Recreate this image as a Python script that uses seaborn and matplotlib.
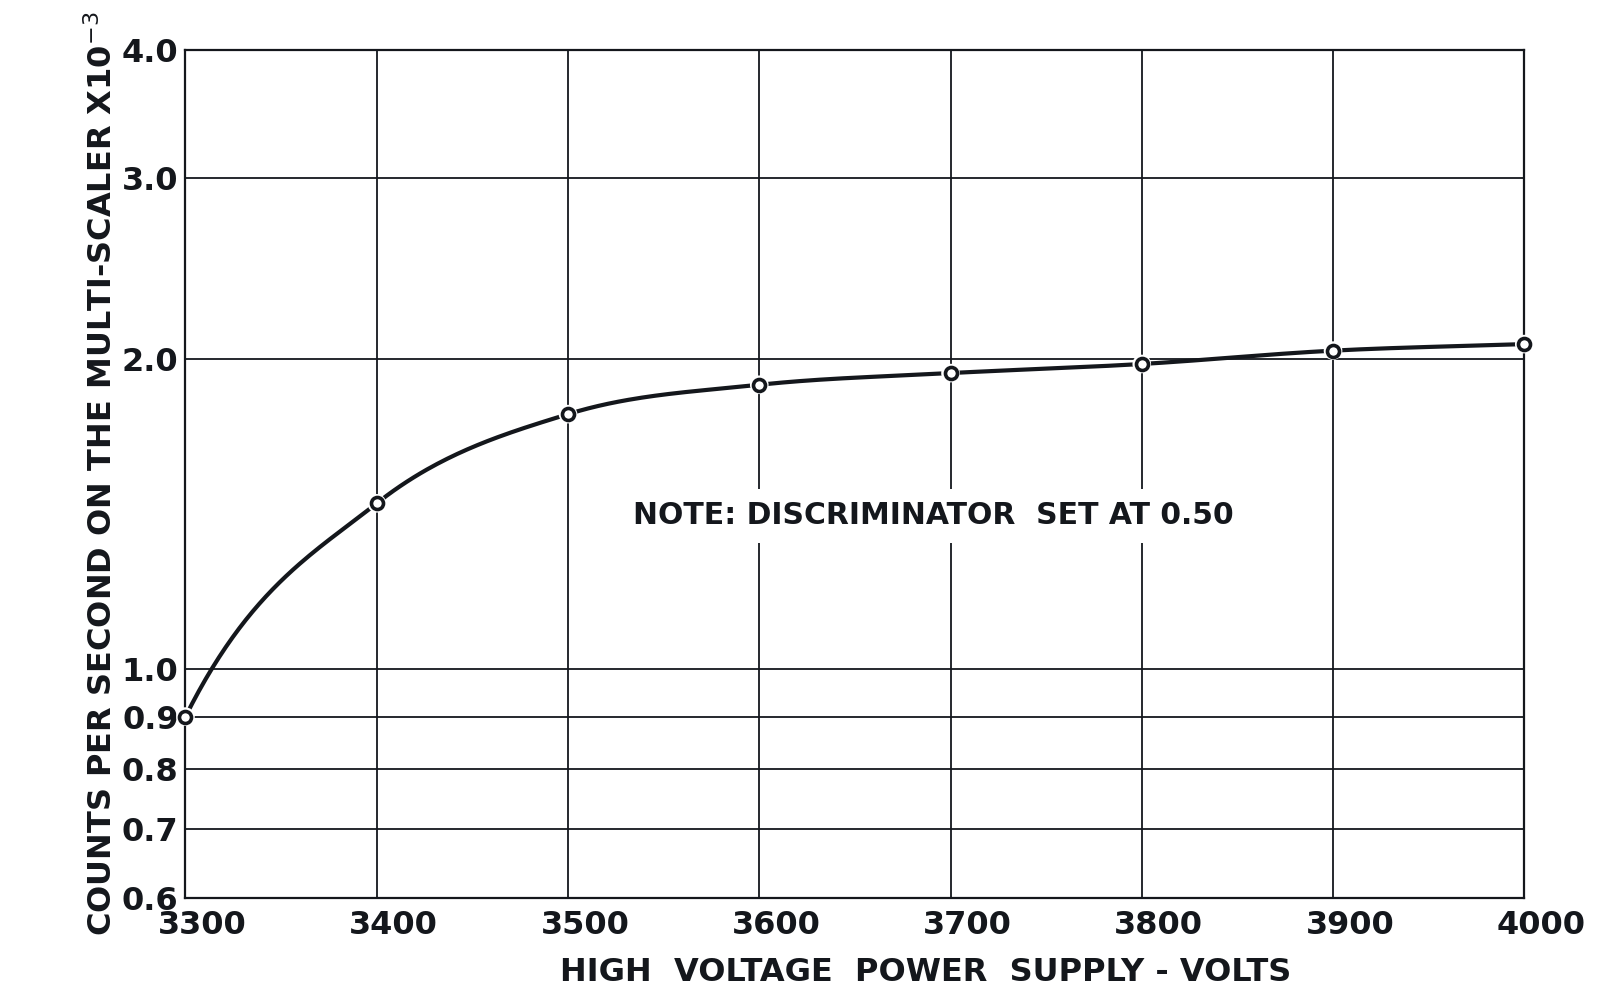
import numpy as np
import matplotlib
matplotlib.use("Agg")
import matplotlib.pyplot as plt
from matplotlib.transforms import ScaledTranslation
import seaborn as sns
import pandas as pd

# data
voltage = [3300, 3400, 3500, 3600, 3700, 3800, 3900, 4000]
counts = [0.90, 1.45, 1.77, 1.89, 1.94, 1.98, 2.04, 2.07]
y_ticks = [0.6, 0.7, 0.8, 0.9, 1.0, 2.0, 3.0, 4.0]
y_tick_labels = ["0.6", "0.7", "0.8", "0.9", "1.0", "2.0", "3.0", "4.0"]
x_ticks = [3300, 3400, 3500, 3600, 3700, 3800, 3900, 4000]
x_label = "HIGH  VOLTAGE  POWER  SUPPLY - VOLTS"
y_label = r"COUNTS PER SECOND ON THE MULTI-SCALER X10$^{-3}$"
note = "NOTE: DISCRIMINATOR  SET AT 0.50"


def hermite_curve(x, y, xs):
    x = np.asarray(x, float); y = np.asarray(y, float)
    h = np.diff(x); d = np.diff(y) / h
    m = np.zeros_like(y)
    for k in range(1, len(x) - 1):
        m[k] = 0.5 * (d[k - 1] + d[k])
    m[0] = 1.8 * d[0]
    m[-1] = d[-1]
    out = np.empty_like(xs)
    for i, xv in enumerate(xs):
        k = min(np.searchsorted(x, xv, side="right") - 1, len(x) - 2)
        t = (xv - x[k]) / h[k]
        h00 = 2 * t**3 - 3 * t**2 + 1; h10 = t**3 - 2 * t**2 + t
        h01 = -2 * t**3 + 3 * t**2; h11 = t**3 - t**2
        out[i] = h00 * y[k] + h10 * h[k] * m[k] + h01 * y[k + 1] + h11 * h[k] * m[k + 1]
    return out


sns.set_theme(style="white")
plt.rcParams["font.family"] = ["DejaVu Sans"]
INK = "#14171c"

fig = plt.figure(figsize=(16.13, 9.90), dpi=100)
ax = fig.add_axes([0.115, 0.093, 0.83, 0.857])

df = pd.DataFrame({"voltage": voltage, "counts": counts})
xs = np.linspace(voltage[0], voltage[-1], 400)
ys = 10 ** hermite_curve(voltage, np.log10(counts), xs)
ax.plot(xs, ys, color=INK, lw=3.0, zorder=3, solid_capstyle="round")
# white halo around the markers (gaps in line and grid)
sns.scatterplot(data=df, x="voltage", y="counts", ax=ax, s=180, marker="o",
                color="white", edgecolor="none", linewidth=0, zorder=4, clip_on=False)
sns.scatterplot(data=df, x="voltage", y="counts", ax=ax, s=75, marker="o",
                facecolor="white", edgecolor=INK, linewidth=2.6, zorder=5, clip_on=False)

ax.set_yscale("log")
ax.set_xlim(3300, 4000)
ax.set_ylim(0.6, 4.0)
ax.set_yticks(y_ticks)
ax.set_yticklabels(y_tick_labels)
ax.yaxis.set_minor_locator(matplotlib.ticker.NullLocator())
ax.set_xticks(x_ticks)
ax.set_xticklabels([str(v) for v in x_ticks])
ax.grid(True, which="major", color=INK, lw=1.3)
ax.set_axisbelow(True)
for s in ax.spines.values():
    s.set_color(INK); s.set_linewidth(1.6)
ax.tick_params(axis="x", length=0, labelsize=23, colors=INK, pad=9)
ax.tick_params(axis="y", length=0, labelsize=23, colors=INK, pad=5)
shift = ScaledTranslation(17 / 100, 0, fig.dpi_scale_trans)
for lab in ax.get_xticklabels():
    lab.set_fontweight("bold")
    lab.set_transform(lab.get_transform() + shift)
for lab in ax.get_yticklabels():
    lab.set_fontweight("bold")

ax.set_xlabel(x_label, fontsize=23, fontweight="bold", color=INK)
ax.xaxis.set_label_coords(0.553, -0.070)
ax.set_ylabel(y_label, fontsize=23, fontweight="bold", color=INK)
ax.yaxis.set_label_coords(-0.05, 0.5)

ax.text(3534, 1.41, note, fontsize=21.5, fontweight="bold", color=INK,
        va="center", ha="left",
        bbox=dict(facecolor="white", edgecolor="none", pad=9), zorder=6)

fig.savefig("out.png", dpi=100, facecolor="white")
